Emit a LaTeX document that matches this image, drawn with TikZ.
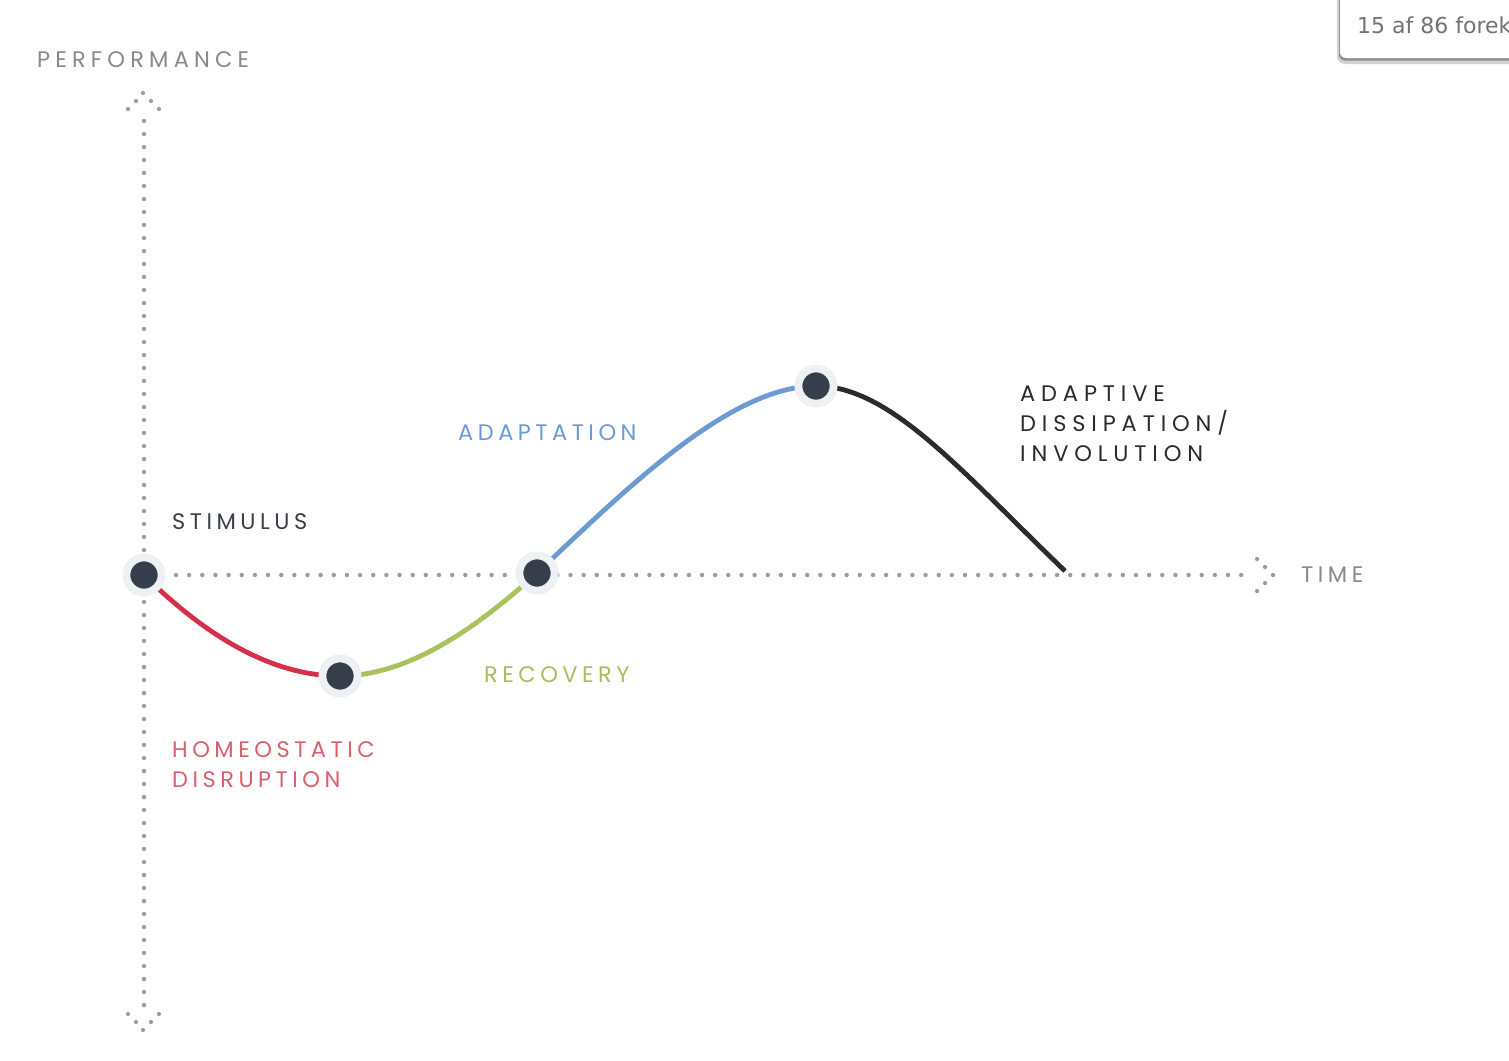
\documentclass[tikz,border=0pt]{standalone}
\usepackage{fontspec}
\usetikzlibrary{shadows}
\newfontfamily\lbl[LetterSpace=20]{Poppins}
\newfontfamily\lblw[LetterSpace=26]{Poppins}
\newfontfamily\lblp[LetterSpace=23]{Poppins}
\newfontfamily\uifont{DejaVu Sans}
\definecolor{dotc}{HTML}{353E4A}
\definecolor{ringc}{HTML}{EEF1F4}
\definecolor{axisc}{HTML}{9C9C9C}
\definecolor{axtxt}{HTML}{8A8A8A}
\definecolor{redl}{HTML}{D4304A}
\definecolor{redt}{HTML}{D9606C}
\definecolor{greenl}{HTML}{A9C25D}
\definecolor{greent}{HTML}{A8BE5E}
\definecolor{bluel}{HTML}{6A9BD3}
\definecolor{darkl}{HTML}{2B2B2B}
\definecolor{darkt}{HTML}{3A3F48}
\begin{document}
\begin{tikzpicture}[x=1pt,y=-1pt,
  dotnode/.style={circle,fill=dotc,draw=ringc,line width=7.8pt,minimum size=35.2pt,inner sep=0pt},
  axisline/.style={draw=axisc,line width=4.4pt,line cap=round,dash pattern=on 0pt off 13pt},
  curve/.style={line width=4.8pt},
  lab/.style={anchor=base west,inner sep=0pt,align=left,font=\lbl\fontsize{22.5}{30}\selectfont},
  labw/.style={lab,font=\lblw\fontsize{22.5}{30}\selectfont},
  labp/.style={lab,font=\lblp\fontsize{22.5}{30}\selectfont},
  tip/.style={fill=axisc}
]
\useasboundingbox (0,0) rectangle (1509,1060);
\fill[white] (0,0) rectangle (1509,1060);

% axes
\coordinate (ytop) at (144,121);
\coordinate (ybot) at (144,1005.5);
\coordinate (xl) at (176,575);
\coordinate (xr) at (1242,575);
\draw[axisline] (ytop) -- (ybot);
\draw[axisline,dash pattern=on 0pt off 13.15pt] (xl) -- (xr);
\foreach \p in {(143,93),(136,101),(151,101),(128,109),(159,109),
                (128,1014),(159,1014),(136,1022),(151,1022),(143,1030),
                (1257,559),(1265,567),(1273,575),(1265,583),(1257,591)}
  \fill[tip] \p circle (2.1);

% curve points
\coordinate (s) at (144,575);
\coordinate (h) at (340,676);
\coordinate (r) at (537,573);
\coordinate (p) at (816,386);
\coordinate (e) at (1065,571);

\draw[curve,redl] (s) .. controls (210,640) and (275,676) .. (h);
\draw[curve,greenl] (h) .. controls (410,676) and (480,625) .. (r);
\draw[curve,bluel] (r) .. controls (625,490) and (730,386) .. (p);
\draw[curve,darkl] (p) .. controls (890,386) and (960,470) .. (e);

\node[dotnode] (sd) at (s) {};
\node[dotnode] (hd) at (h) {};
\node[dotnode] (rd) at (r) {};
\node[dotnode] (pd) at (p) {};

% labels
\node[labp,text=axtxt] (perf) at (37,67) {PERFORMANCE};
\node[lab,text=axtxt] (time) at (1301,582) {TIME};
\node[lab,text=darkt] (stim) at (172,529) {STIMULUS};
\node[lab,text=bluel] (adap) at (458,440) {ADAPTATION};
\node[labw,text=darkl] (diss) at (1020,461) {ADAPTIVE\\DISSIPATION/\\INVOLUTION};
\node[lab,text=greent] (reco) at (484,682) {RECOVERY};
\node[lab,text=redt] (homeo) at (172,787) {HOMEOSTATIC\\DISRUPTION};

% search box
\begin{scope}
\clip (0,0) rectangle (1509,1060);
\fill[black!30,rounded corners=7pt] (1338,-10) rectangle (1530,62);
\fill[black!18,rounded corners=8pt] (1337,-10) rectangle (1530,64);
\fill[black!45,rounded corners=6pt] (1339,-10) rectangle (1530,60.5);
\filldraw[fill=white,draw=black!8,rounded corners=6pt] (1340,-10) rectangle (1530,58);
\node[anchor=base west,inner sep=0pt,text=black!55,font=\uifont\fontsize{22}{26}\selectfont] (find) at (1357,33) {15 af 86 forek};
\end{scope}
\end{tikzpicture}
\end{document}
